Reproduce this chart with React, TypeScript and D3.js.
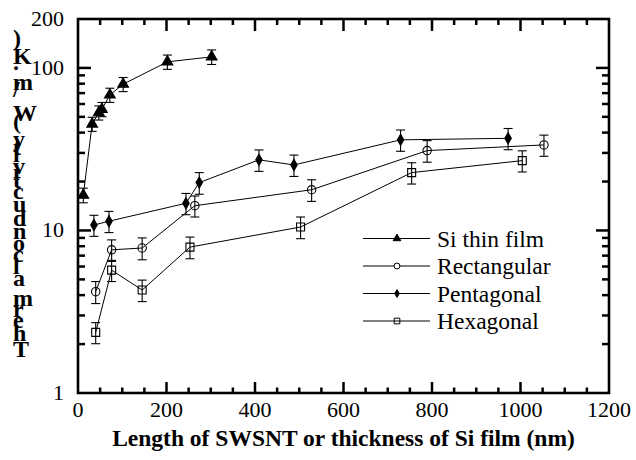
import React from 'react';
import * as d3 from 'd3';

// values
const siX = [12, 32, 47, 54, 72, 102, 202, 302];
const siY = [16.5, 45.2, 53.1, 55.7, 68.2, 79.4, 109, 117];
const siErr = [1.7, 4.5, 5.3, 5.6, 6.8, 7.9, 11, 12];

const rectX = [40, 76, 145, 264, 528, 789, 1053];
const rectY = [4.2, 7.6, 7.8, 14.2, 17.8, 31.0, 33.6];
const rectErr = [0.65, 1.15, 1.2, 2.1, 2.7, 4.7, 5.0];

const pentX = [36, 70, 244, 274, 409, 488, 729, 972];
const pentY = [10.8, 11.4, 14.7, 19.7, 27.2, 25.3, 36.1, 36.9];
const pentErr = [1.6, 1.7, 2.2, 3.0, 4.1, 3.8, 5.4, 5.5];

const hexX = [40, 76, 145, 253, 503, 754, 1004];
const hexY = [2.36, 5.7, 4.3, 7.9, 10.5, 22.7, 26.9];
const hexErr = [0.35, 0.85, 0.65, 1.2, 1.6, 3.4, 4.0];

const seriesNames = ['Si thin film', 'Rectangular', 'Pentagonal', 'Hexagonal'];
const xTicks = [0, 200, 400, 600, 800, 1000, 1200];
const yTicks = [1, 10, 100, 200];
const xTitle = 'Length of SWSNT or thickness of Si film (nm)';
const yTitle = 'Thermal conductivity (W/m.K)';

const W = 636;
const H = 460;
const left = 78, right = 609, top = 19, bottom = 393;
const font = 'Liberation Serif, Times New Roman, Times, serif';

const x = d3.scaleLinear().domain([0, 1200]).range([left, right]);
const y = d3.scaleLog().domain([1, 200]).range([bottom, top]);

type Marker = 'triangle' | 'circle' | 'diamond' | 'square';

function markerPath(kind: Marker, big: boolean) {
  const k = big ? 1 : 0.5;
  if (kind === 'triangle') return d3.symbol(d3.symbolTriangle, 50 * k)();
  if (kind === 'circle') return d3.symbol(d3.symbolCircle, 55 * k)();
  if (kind === 'diamond') return d3.symbol(d3.symbolDiamond, 36 * k)();
  return d3.symbol(d3.symbolSquare, 64 * k)();
}

const series = [
  { name: seriesNames[0], xs: siX, ys: siY, err: siErr, marker: 'triangle' as Marker, filled: true },
  { name: seriesNames[1], xs: rectX, ys: rectY, err: rectErr, marker: 'circle' as Marker, filled: false },
  { name: seriesNames[2], xs: pentX, ys: pentY, err: pentErr, marker: 'diamond' as Marker, filled: true },
  { name: seriesNames[3], xs: hexX, ys: hexY, err: hexErr, marker: 'square' as Marker, filled: false },
];

export default function App() {
  const line = d3.line<number>();

  // minor ticks
  const xMinor = d3.range(0, 1201, 50).filter((v) => v % 200 !== 0);
  const yMinor: number[] = [];
  [1, 10].forEach((dec) => d3.range(2, 10).forEach((m) => yMinor.push(dec * m)));

  const tickW = 2.5;

  return (
    <svg width={W} height={H} style={{ position: 'absolute', left: 0, top: 0, background: '#fff', fontFamily: font }}>
      {/* ticks */}
      <g stroke="#000" strokeWidth={tickW}>
        {xTicks.slice(1, -1).map((v) => (
          <g key={'xm' + v}>
            <line x1={x(v)} x2={x(v)} y1={bottom} y2={bottom - 11} />
            <line x1={x(v)} x2={x(v)} y1={top} y2={top + 12} />
          </g>
        ))}
        {xMinor.map((v) => (
          <g key={'xn' + v}>
            <line x1={x(v)} x2={x(v)} y1={bottom} y2={bottom - 5.5} />
            <line x1={x(v)} x2={x(v)} y1={top} y2={top + 6} />
          </g>
        ))}
        {[10, 100].map((v) => (
          <g key={'ym' + v}>
            <line x1={left} x2={left + 13} y1={y(v)} y2={y(v)} />
            <line x1={right} x2={right - 13} y1={y(v)} y2={y(v)} />
          </g>
        ))}
        {yMinor.map((v) => (
          <g key={'yn' + v}>
            <line x1={left} x2={left + 7} y1={y(v)} y2={y(v)} />
            <line x1={right} x2={right - 7} y1={y(v)} y2={y(v)} />
          </g>
        ))}
      </g>
      <rect x={left} y={top} width={right - left} height={bottom - top} fill="none" stroke="#000" strokeWidth={2.6} />

      {/* tick labels */}
      <g style={{ fontFamily: font, fontSize: 22 }} fill="#000">
        {xTicks.map((v) => (
          <text key={'xl' + v} x={x(v)} y={bottom + 24} textAnchor="middle">{v}</text>
        ))}
        {yTicks.map((v) => (
          <text key={'yl' + v} x={left - 14} y={y(v) + 7} textAnchor="end">{v}</text>
        ))}
      </g>

      {/* data */}
      {series.map((s) => {
        const pts = s.xs.map((v, i) => [x(v), y(s.ys[i])] as [number, number]);
        return (
          <g key={s.name}>
            <path d={line(pts) || ''} fill="none" stroke="#000" strokeWidth={1} />
            {s.xs.map((v, i) => {
              const cx = x(v);
              const y1 = y(s.ys[i] + s.err[i]);
              const y2 = y(s.ys[i] - s.err[i]);
              return (
                <g key={i} stroke="#000" strokeWidth={1.1}>
                  <line x1={cx} x2={cx} y1={y1} y2={y2} />
                  <line x1={cx - 4.5} x2={cx + 4.5} y1={y1} y2={y1} />
                  <line x1={cx - 4.5} x2={cx + 4.5} y1={y2} y2={y2} />
                </g>
              );
            })}
            {pts.map((p, i) => (
              <path
                key={'m' + i}
                d={markerPath(s.marker, true) || ''}
                transform={`translate(${p[0]},${p[1]})`}
                fill={s.filled ? '#000' : 'none'}
                stroke="#000"
                strokeWidth={1.1}
              />
            ))}
          </g>
        );
      })}

      {/* legend */}
      {series.map((s, i) => {
        const ly = 238.5 + i * 27.5;
        return (
          <g key={'lg' + i}>
            <line x1={363} x2={430} y1={ly} y2={ly} stroke="#000" strokeWidth={1} />
            <path
              d={markerPath(s.marker, false) || ''}
              transform={`translate(397,${ly})`}
              fill={s.filled ? '#000' : s.marker === 'circle' ? '#fff' : 'none'}
              stroke="#000"
              strokeWidth={1}
            />
            <text x={437} y={ly + 8} style={{ fontFamily: font, fontSize: 23.5 }}>{s.name}</text>
          </g>
        );
      })}

      {/* axis titles */}
      <text
        x={(left + right) / 2}
        y={446}
        textAnchor="middle"
        style={{ fontFamily: font, fontWeight: 'bold', fontSize: 23.5 }}
      >
        {xTitle}
      </text>
      <text
        transform="translate(13,357) rotate(-90)"
        rotate="90"
        style={{ fontFamily: font, fontWeight: 'bold', fontSize: 24 }}
      >
        {yTitle}
      </text>
    </svg>
  );
}
